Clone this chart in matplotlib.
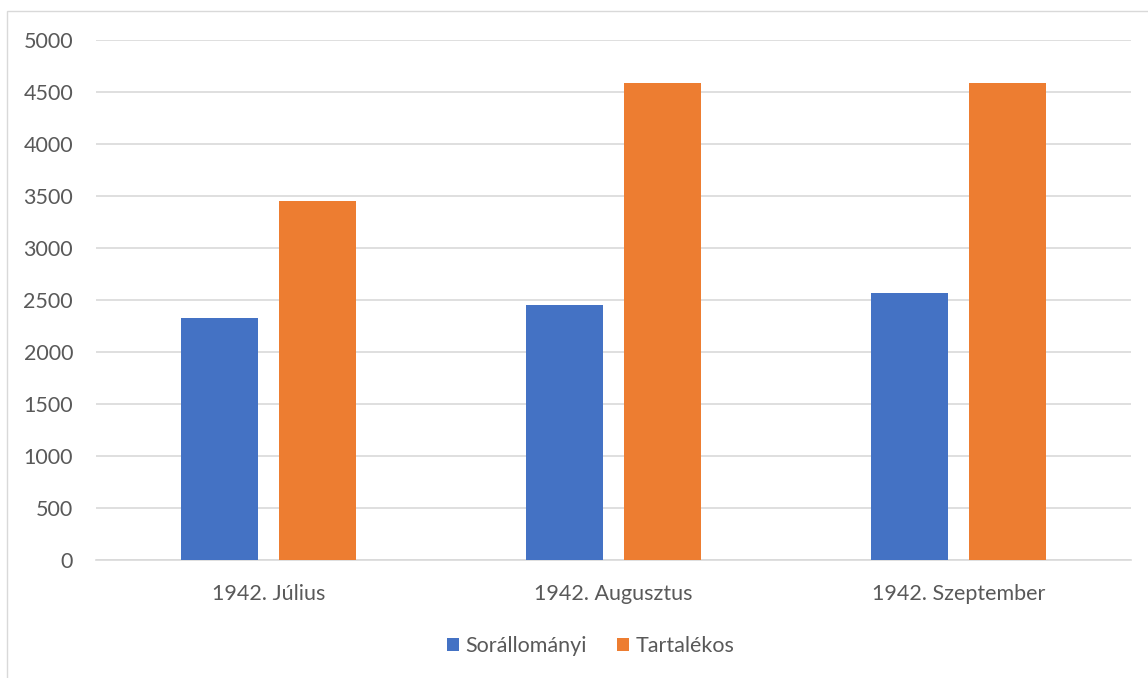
import matplotlib
matplotlib.use("Agg")
import matplotlib.pyplot as plt
from matplotlib.patches import Rectangle
import numpy as np

categories = ["1942. Július", "1942. Augusztus", "1942. Szeptember"]
sorallomanyi = [2330, 2450, 2570]
tartalekos = [3450, 4590, 4590]
series_names = ["Sorállományi", "Tartalékos"]
y_ticks = list(range(0, 5001, 500))

plt.rcParams['font.family'] = ['Lato', 'DejaVu Sans']

fig = plt.figure(figsize=(11.48, 6.78), dpi=100)
# chart outline (cut off at right/bottom like the original)
fig.patches.append(Rectangle((7/1148, -0.1), 1.2, (678-11)/678 + 0.1,
                             transform=fig.transFigure, fill=False,
                             edgecolor='#d9d9d9', linewidth=1))

ax = fig.add_axes([96/1148, 118/678, 1035/1148, 520/678])

x = np.arange(len(categories))
w = 0.223
off = 0.142
ax.bar(x - off, sorallomanyi, w, color='#4472c4', label=series_names[0], zorder=3)
ax.bar(x + off, tartalekos, w, color='#ed7d31', label=series_names[1], zorder=3)

ax.set_xlim(-0.5, 2.5)
ax.set_ylim(0, 5000)
ax.set_yticks(y_ticks)
ax.set_xticks(x)
ax.set_xticklabels(categories)
ax.yaxis.grid(True, color='#d9d9d9', linewidth=1.2, zorder=0)
for s in ['top', 'right', 'left']:
    ax.spines[s].set_visible(False)
ax.spines['bottom'].set_color('#d9d9d9')
ax.spines['bottom'].set_linewidth(1.2)
ax.tick_params(axis='both', length=0, colors='#595959', labelsize=15.5)
ax.tick_params(axis='y', pad=16.5)
ax.tick_params(axis='x', pad=17)

ax.legend(loc='center', bbox_to_anchor=(0.478, -0.165), ncol=2, frameon=False,
          fontsize=15.5, handlelength=0.55, handleheight=0.55, handletextpad=0.3,
          columnspacing=1.4, labelcolor='#595959')

fig.savefig("out.png", dpi=100)
